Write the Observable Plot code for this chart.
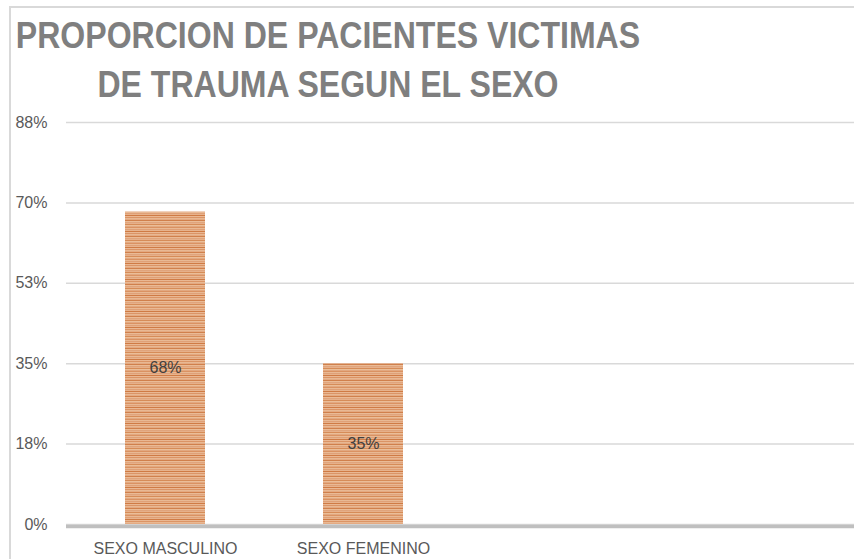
<!DOCTYPE html>
<html><head><meta charset="utf-8">
<script src="https://cdn.jsdelivr.net/npm/d3@7"></script>
<script src="https://cdn.jsdelivr.net/npm/@observablehq/plot@0.6"></script>
<style>
body{margin:0;background:#fff;}
#wrap{position:relative;width:854px;height:559px;overflow:hidden;background:#fff;}
#frame{position:absolute;left:9px;top:6px;width:1000px;height:1000px;border:2px solid #d9d9d9;box-sizing:border-box;}
#titlebox{position:relative;height:105px;}
#title{position:absolute;left:-172px;top:0;width:1000px;box-sizing:border-box;padding-top:11px;text-align:center;white-space:nowrap;
  font-family:"Liberation Sans",Arial,sans-serif;font-weight:bold;font-size:37px;line-height:49px;color:#7f7f7f;
  transform:scaleX(0.866);transform-origin:500px 0;}
#chart{position:relative;height:454px;}
#chart svg{display:block;background:transparent;}
</style></head>
<body>
<div id="wrap">
<div id="frame"></div>
<div id="titlebox"><div id="title">PROPORCION DE PACIENTES VICTIMAS<br>DE TRAUMA SEGUN EL SEXO</div></div>
<div id="chart"></div>
</div>
<script>
const categories = ["SEXO MASCULINO", "SEXO FEMENINO"];
const values = [0.68, 0.35];
const valueLabels = ["68%", "35%"];
const yTicks = [0, 0.175, 0.35, 0.525, 0.7, 0.875];
const yTickLabels = ["0%", "18%", "35%", "53%", "70%", "88%"];

const data = categories.map((c, i) => ({category: c, value: values[i], label: valueLabels[i]}));

const regular = "'Liberation Sans',Arial,sans-serif";

const chart = Plot.plot({
  width: 854,
  height: 454,
  marginTop: 17,
  marginBottom: 35,
  marginLeft: 66,
  marginRight: 0,
  style: {background: "transparent", overflow: "visible"},
  x: {domain: categories, range: [66, 462], paddingInner: 0.596, paddingOuter: 0.298},
  y: {domain: [0, 0.875]},
  marks: [
    Plot.ruleY(yTicks, {stroke: "#d9d9d9", strokeWidth: 1.5}),
    Plot.barY(data, {x: "category", y: "value", fill: "url(#stripes)"}),
    Plot.ruleY([0], {stroke: "#bfbfbf", strokeWidth: 3.5, dy: 2}),
    Plot.text(data, {x: "category", y: d => d.value / 2, text: "label", fontSize: 16, fontFamily: regular, fill: "#404040"}),
    Plot.axisY({ticks: yTicks, tickFormat: d => yTickLabels[yTicks.indexOf(d)], tickSize: 0, tickPadding: 19, fontSize: 16, fontFamily: regular, color: "#595959", label: null}),
    Plot.axisX({tickSize: 0, tickPadding: 18, fontSize: 16, fontFamily: regular, color: "#595959", label: null})
  ]
});

const svgEl = chart.tagName.toLowerCase() === "svg" ? chart : chart.querySelector("svg");
const stripeRows = ["#db9466","#e8b893","#e4aa82","#d0804c","#eabb96","#e0a47c","#e6b08a","#d68c58",
                    "#ebbe98","#e2a880","#da9262","#e9b994","#dfa077","#e7b38d","#cf7b45","#eab893"];
const defs = d3.select(svgEl).insert("defs", ":first-child");
const pat = defs.append("pattern").attr("id", "stripes").attr("patternUnits", "userSpaceOnUse")
  .attr("width", 8).attr("height", stripeRows.length);
stripeRows.forEach((c, i) => pat.append("rect").attr("x", 0).attr("y", i).attr("width", 8).attr("height", 1).attr("fill", c));

document.getElementById("chart").appendChild(chart);
</script>
</body></html>
